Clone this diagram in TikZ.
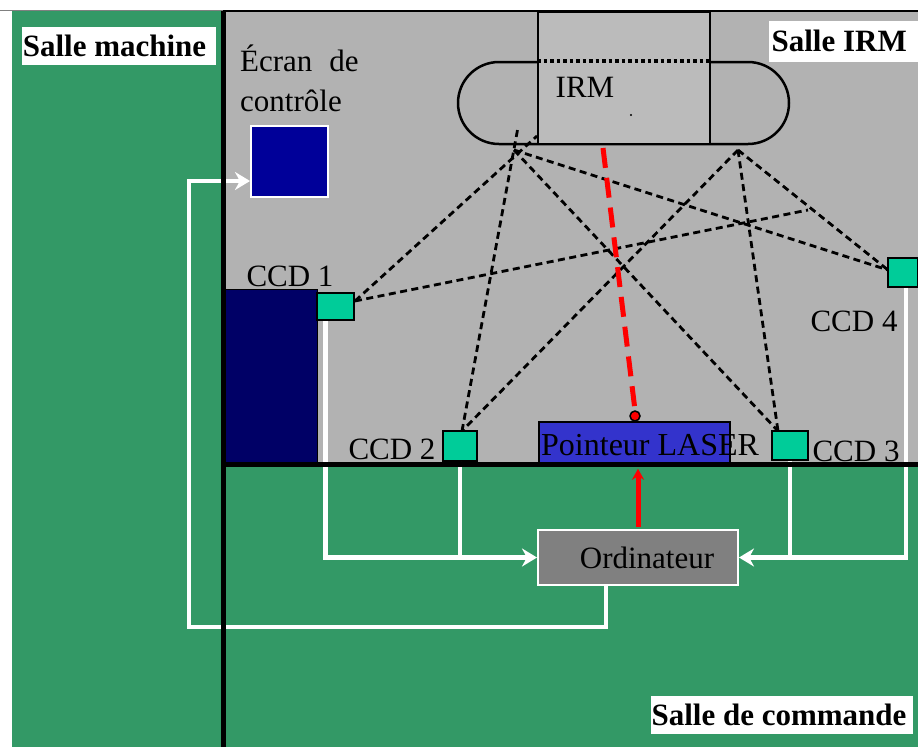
\documentclass[tikz,border=0pt]{standalone}
\usepackage{fontspec}
\setmainfont{Liberation Serif}
\usepackage{tikz}
\usetikzlibrary{shapes.misc, arrows.meta, calc, positioning}
\definecolor{roomgreen}{HTML}{339966}
\definecolor{roomgray}{HTML}{B2B2B2}
\definecolor{scangray}{HTML}{BBBBBB}
\definecolor{ccdgreen}{HTML}{00CC99}
\definecolor{screenblue}{HTML}{000099}
\definecolor{blockblue}{HTML}{000066}
\definecolor{laserblue}{HTML}{3333CC}
\tikzset{
    txt/.style={font=\fontsize{31}{37}\selectfont, inner sep=0pt},
    roomlabel/.style={fill=white, font=\fontsize{31}{37}\selectfont\bfseries, inner sep=0pt, align=left, text depth=0pt},
    ccdbox/.style={draw=black, line width=1.5pt, fill=ccdgreen, inner sep=0pt},
    wire/.style={draw=white, line width=4.5pt},
    wirearrow/.style={wire, -{Stealth[length=15pt,width=18pt]}},
    sight/.style={draw=black, line width=2.8pt, dash pattern=on 7pt off 4.5pt},
    wall/.style={draw=black, line width=5pt}
}
\begin{document}
\begin{tikzpicture}[x=1pt,y=-1pt]
    \useasboundingbox (0,0) rectangle (918,747);
    % Rooms
    \fill[white] (0,0) rectangle (918,747);
    \fill[roomgreen] (12,11) rectangle (918,747);
    \fill[roomgray] (224,11) rectangle (918,464);
    \draw[gray, line width=1pt] (0,10) -- (918,10);

    % MRI scanner
    \node[draw=black, line width=2.5pt, fill=roomgray, rounded rectangle, minimum width=331pt, minimum height=82pt, inner sep=0pt] (capsule) at (623.5,103) {};
    \node[draw=black, line width=2pt, fill=scangray, minimum width=172pt, minimum height=132pt, inner sep=0pt] (scanner) at (624,78) {};
    \draw[black, line width=3.5pt, dash pattern=on 3.5pt off 3pt] (scanner.west |- capsule.north) -- (scanner.east |- capsule.north);
    \node[txt] (irmlabel) at (585,87) {IRM};
    \node[circle, fill=black, inner sep=0.8pt] (irmdot) at (631,115) {};

    % Room labels
    \node[roomlabel, minimum width=194pt, minimum height=38pt] (machine) at (119,45.5) {\hspace*{1pt}Salle machine\hspace*{10pt}};
    \node[roomlabel, minimum width=149pt, minimum height=41pt, anchor=west] (salleirm) at (769,41) {Salle IRM\hspace*{9pt}};
    \node[roomlabel, minimum width=262pt, minimum height=38pt] (commande) at (782,715) {Salle de commande\hspace*{6pt}};

    % Equipment
    \node[draw=white, line width=2pt, fill=screenblue, minimum width=77pt, minimum height=71pt, inner sep=0pt] (ecran) at (289.5,161.5) {};
    \node[txt, align=left, anchor=north west] (ecranlabel) at (240,45) {Écran\hspace{17pt}de\\[3pt]contrôle};
    \node[draw=black, line width=1pt, fill=blockblue, minimum width=92pt, minimum height=173pt, inner sep=0pt] (block) at (271.5,375.5) {};
    \node[ccdbox, minimum width=37pt, minimum height=27pt] (ccdA) at (335.5,306.5) {};
    \node[ccdbox, minimum width=34pt, minimum height=30pt] (ccdB) at (460,446) {};
    \node[ccdbox, minimum width=36pt, minimum height=29pt] (ccdC) at (790,445.5) {};
    \node[ccdbox, minimum width=30pt, minimum height=29pt] (ccdD) at (903,272.5) {};
    \node[txt] (ccdAlabel) at (290,276) {CCD 1};
    \node[txt] (ccdBlabel) at (392,449) {CCD 2};
    \node[txt] (ccdClabel) at (856,451) {CCD 3};
    \node[txt] (ccdDlabel) at (854,321) {CCD 4};
    \node[draw=black, line width=1.5pt, fill=laserblue, minimum width=191pt, minimum height=41pt, inner sep=0pt] (pointeur) at (634.5,442.5) {};
    \node[txt, anchor=west, font=\fontsize{32}{38}\selectfont] (pointeurlabel) at (541,445) {Pointeur LASER};
    \node[draw=white, line width=2pt, fill=gray, txt, minimum width=200pt, minimum height=55pt] (ordi) at (638,557.5) {\hspace*{18pt}Ordinateur};

    % Cables to the computer
    \coordinate (ccdAfoot) at ([xshift=-10pt]ccdA.south);
    \coordinate (ccdDfoot) at ([xshift=3pt]ccdD.south);
    \draw[wire] (ccdB.south) -- (ccdB.south |- ordi.west);
    \draw[wire] (ccdC.south) -- (ccdC.south |- ordi.east);
    \draw[wirearrow] (ccdAfoot) |- (ordi.west);
    \draw[wirearrow] (ccdDfoot) |- (ordi.east);
    \coordinate (ordifoot) at (ordi.south -| 606,0);
    \coordinate (ecranbend) at (189,181);
    \draw[wirearrow] (ordifoot) -- (606,627) -| (ecranbend) -- (ecran.west |- ecranbend);

    % Walls
    \draw[wall] (223,11) -- (223,747);
    \draw[wall] (223,464) -- (918,464);
    \draw[black, line width=2pt] (223,11) -- (918,11);

    % Lines of sight
    \coordinate (markerA) at (514,150);
    \coordinate (markerB) at (738,150);
    \coordinate (stubA) at (537,136);
    \coordinate (stubB) at (517.5,130);
    \coordinate (endline) at (808,210);
    \coordinate (ccdAeye) at (355,301);
    \coordinate (ccdBeye) at (462,431);
    \coordinate (ccdCeye) at (778,431);
    \coordinate (ccdDeye) at (888,270);
    \draw[sight] (ccdAeye) -- (stubA);
    \draw[sight] (ccdBeye) -- (stubB);
    \draw[sight] (markerA) -- (ccdCeye);
    \draw[sight] (markerA) -- (ccdDeye);
    \draw[sight] (ccdAeye) -- (endline);
    \draw[sight] (markerB) -- (ccdBeye);
    \draw[sight] (markerB) -- (ccdCeye);
    \draw[sight] (markerB) -- (ccdDeye);

    % Laser
    \node[circle, draw=black, line width=1.5pt, fill=red, minimum size=10pt, inner sep=0pt] (spot) at (635,416) {};
    \coordinate (laserstart) at (603,148);
    \draw[red, line width=5pt, dash pattern=on 20pt off 10pt] (laserstart) -- (spot.north);
    \draw[red, line width=5pt, -{Stealth[length=11pt,width=12pt]}, shorten >=5pt, shorten <=2pt] (ordi.north) -- (ordi.north |- pointeur.south);
\end{tikzpicture}
\end{document}
